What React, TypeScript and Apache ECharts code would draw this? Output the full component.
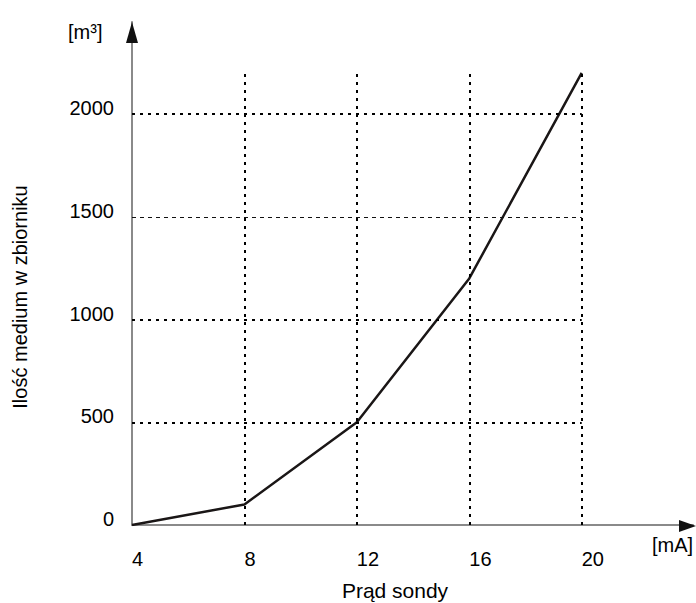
import React, { useEffect, useRef } from "react";
import * as echarts from "echarts";

const xTicks = [4, 8, 12, 16, 20];
const yTicks = [0, 500, 1000, 1500, 2000];
const current = [4, 8, 12, 16, 20];
const volume = [0, 100, 500, 1200, 2200];

const xTitle = "Prąd sondy";
const yTitle = "Ilość medium w zbiorniku";
const xUnit = "[mA]";
const yUnit = "[m³]";

const FONT = "'Liberation Sans', Arial, sans-serif";

export default function App() {
  const ref = useRef<HTMLDivElement>(null);
  useEffect(() => {
    if (!ref.current) return;
    const chart = echarts.init(ref.current, undefined, { renderer: "svg" });
    const xMin = xTicks[0];
    const xMax = xTicks[xTicks.length - 1];
    const yTop = Math.max(...volume);
    const gridData: any[] = [];
    xTicks.slice(1).forEach((x) => {
      gridData.push([{ coord: [x, 0] }, { coord: [x, yTop] }]);
    });
    yTicks.slice(1).forEach((y) => {
      const thin = y === 1500;
      gridData.push([
        {
          coord: [xMin, y],
          lineStyle: thin
            ? { width: 1.2, type: [4, 4], color: "#111" }
            : undefined,
        },
        { coord: [xMax, y] },
      ]);
    });

    chart.setOption({
      animation: false,
      grid: { left: 132, right: 0, top: 22, bottom: 78 },
      xAxis: {
        type: "value",
        min: 4,
        max: 23.96,
        interval: 4,
        axisLine: { lineStyle: { color: "#8a8a8a", width: 2 } },
        axisTick: { show: false },
        splitLine: { show: false },
        axisLabel: {
          formatter: (v: number) => (xTicks.includes(v) ? String(v) : ""),
          fontSize: 20,
          fontFamily: FONT,
          color: "#000",
          align: "left",
          verticalAlign: "top",
          margin: 24,
        },
      },
      yAxis: {
        type: "value",
        min: 0,
        max: 2448,
        interval: 500,
        axisLine: { show: true, lineStyle: { color: "#8a8a8a", width: 2 } },
        axisTick: { show: false },
        splitLine: { show: false },
        axisLabel: {
          formatter: (v: number) => (yTicks.includes(v) ? String(v) : ""),
          fontSize: 20,
          fontFamily: FONT,
          color: "#000",
          align: "right",
          verticalAlign: "bottom",
          lineHeight: 12,
          margin: 18,
        },
      },
      series: [
        {
          type: "line",
          data: [],
          silent: true,
          z: 1,
          markLine: {
            silent: true,
            symbol: ["none", "none"],
            label: { show: false },
            lineStyle: { color: "#000", width: 2, type: [3, 5] },
            data: gridData,
          },
        },
        {
          type: "line",
          z: 3,
          data: current.map((x, i) => [x, volume[i]]),
          showSymbol: false,
          lineStyle: { color: "#1a1616", width: 2.5 },
        },
      ],
      graphic: [
        {
          type: "polygon",
          shape: { points: [[132, 22], [126, 43], [138, 43]] },
          style: { fill: "#111" },
          z: 10,
        },
        {
          type: "polygon",
          shape: { points: [[696, 526], [679, 520], [679, 532]] },
          style: { fill: "#111" },
          z: 10,
        },
        {
          type: "text",
          x: 68,
          y: 22,
          style: { text: yUnit, fontSize: 20, fontFamily: FONT, fill: "#000" },
        },
        {
          type: "text",
          x: 652,
          y: 535,
          style: { text: xUnit, fontSize: 20, fontFamily: FONT, fill: "#000" },
        },
        {
          type: "text",
          x: 395,
          y: 580,
          style: {
            text: xTitle,
            fontSize: 21,
            fontFamily: FONT,
            fill: "#000",
            textAlign: "center",
          },
        },
        {
          type: "text",
          x: 20,
          y: 297,
          rotation: Math.PI / 2,
          style: {
            text: yTitle,
            fontSize: 20,
            fontFamily: FONT,
            fill: "#000",
            textAlign: "center",
            textVerticalAlign: "middle",
          },
        },
      ],
    });
    return () => chart.dispose();
  }, []);
  return (
    <div
      ref={ref}
      style={{ position: "fixed", left: 0, top: 0, width: 696, height: 603, background: "#fff" }}
    />
  );
}
